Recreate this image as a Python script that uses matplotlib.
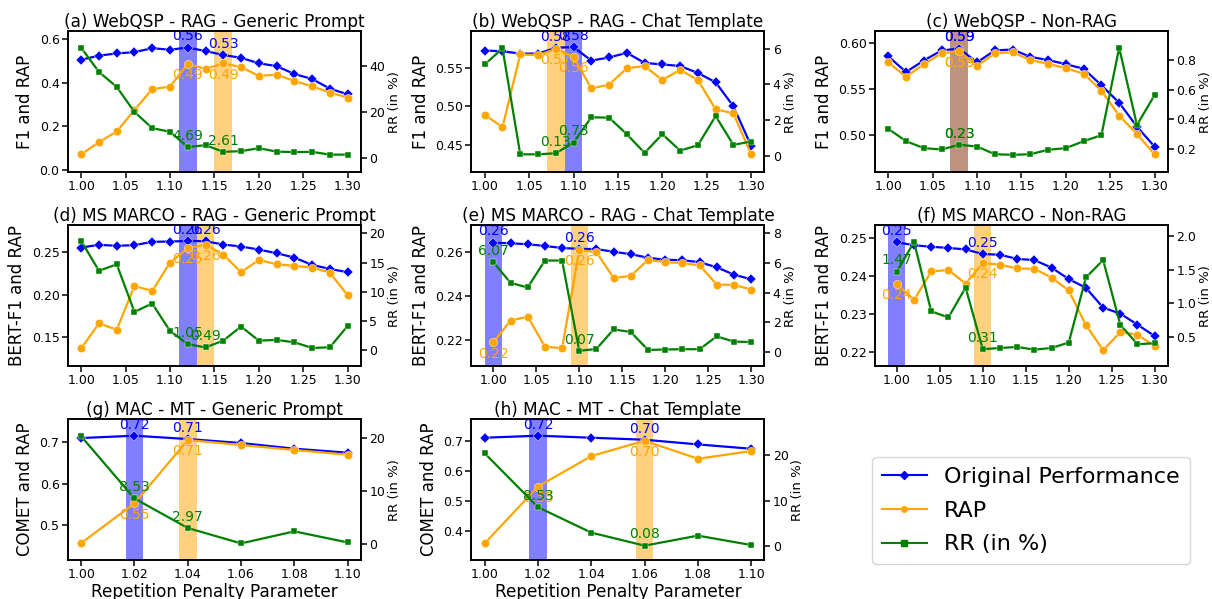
import matplotlib

matplotlib.use("Agg")
import matplotlib.pyplot as plt
from matplotlib.lines import Line2D

# repetition penalty values
X_LONG = [1.00, 1.02, 1.04, 1.06, 1.08, 1.10, 1.12, 1.14,
          1.16, 1.18, 1.20, 1.22, 1.24, 1.26, 1.28, 1.30]
X_SHORT = [1.00, 1.02, 1.04, 1.06, 1.08, 1.10]

TITLES = [
    "(a) WebQSP - RAG - Generic Prompt",
    "(b) WebQSP - RAG - Chat Template",
    "(c) WebQSP - Non-RAG",
    "(d) MS MARCO - RAG - Generic Prompt",
    "(e) MS MARCO - RAG - Chat Template",
    "(f) MS MARCO - Non-RAG",
    "(g) MAC - MT - Generic Prompt",
    "(h) MAC - MT - Chat Template",
]
ROW_YLABELS = ["F1 and RAP", "BERT-F1 and RAP", "COMET and RAP"]

A_ORIG = [0.505, 0.524, 0.534, 0.540, 0.558, 0.551, 0.561, 0.545,
          0.527, 0.514, 0.489, 0.476, 0.440, 0.417, 0.373, 0.347]
A_RAP = [0.072, 0.128, 0.177, 0.275, 0.371, 0.382, 0.486, 0.463,
         0.488, 0.472, 0.431, 0.437, 0.408, 0.384, 0.355, 0.332]
A_RR = [47.8, 37.3, 30.8, 19.9, 12.9, 11.3, 4.69, 5.5,
        2.61, 2.9, 4.2, 2.7, 2.5, 2.6, 1.4, 1.4]

B_ORIG = [0.572, 0.571, 0.568, 0.568, 0.5755, 0.5765, 0.559, 0.563,
          0.569, 0.556, 0.554, 0.552, 0.543, 0.531, 0.500, 0.449]
B_RAP = [0.489, 0.473, 0.567, 0.566, 0.574, 0.564, 0.523, 0.528,
         0.549, 0.552, 0.534, 0.547, 0.534, 0.496, 0.491, 0.438]
B_RR = [5.12, 6.02, 0.07, 0.07, 0.13, 0.73, 2.15, 2.13,
        1.20, 0.15, 1.20, 0.28, 0.58, 2.22, 0.60, 0.79]

C_ORIG = [0.5855, 0.5685, 0.581, 0.592, 0.594, 0.579, 0.592, 0.593,
          0.585, 0.5815, 0.577, 0.572, 0.554, 0.535, 0.509, 0.487]
C_RAP = [0.579, 0.5634, 0.5768, 0.5888, 0.591, 0.575, 0.589, 0.590,
         0.5815, 0.5775, 0.5725, 0.5667, 0.548, 0.521, 0.501, 0.4786]
C_RR = [0.337, 0.254, 0.207, 0.198, 0.23, 0.218, 0.166, 0.162,
        0.166, 0.196, 0.207, 0.254, 0.294, 0.883, 0.363, 0.565]

D_ORIG = [0.2555, 0.2587, 0.2575, 0.2583, 0.2622, 0.2626, 0.2632, 0.2630,
          0.2590, 0.2567, 0.2531, 0.2488, 0.2437, 0.2350, 0.2303, 0.2264]
D_RAP = [0.1366, 0.1661, 0.1587, 0.2102, 0.2043, 0.2378, 0.2547, 0.2590,
         0.2472, 0.2264, 0.2409, 0.2358, 0.2339, 0.2319, 0.2260, 0.1992]
D_RR = [18.7, 13.6, 14.7, 6.57, 8.0, 3.31, 1.05, 0.49,
        1.66, 4.06, 1.66, 1.77, 1.37, 0.40, 0.51, 4.17]

E_ORIG = [0.2640, 0.2637, 0.2633, 0.2625, 0.2616, 0.2612, 0.2611, 0.2599,
          0.2588, 0.2572, 0.2563, 0.2561, 0.2552, 0.2529, 0.2496, 0.2475]
E_RAP = [0.2191, 0.2289, 0.2307, 0.2172, 0.2164, 0.2607, 0.2597, 0.2481,
         0.2490, 0.2563, 0.2552, 0.2548, 0.2538, 0.2451, 0.2450, 0.2429]
E_RR = [6.07, 4.66, 4.35, 6.17, 6.17, 0.07, 0.20, 1.52,
        1.34, 0.13, 0.16, 0.18, 0.18, 1.05, 0.69, 0.67]

F_ORIG = [0.2489, 0.2481, 0.2477, 0.2474, 0.2470, 0.2458, 0.2456, 0.2445,
          0.2442, 0.2422, 0.2392, 0.2369, 0.2317, 0.2301, 0.2272, 0.2242]
F_RAP = [0.2380, 0.2337, 0.2412, 0.2416, 0.2380, 0.2434, 0.2430, 0.2420,
         0.2419, 0.2396, 0.2362, 0.2271, 0.2205, 0.2252, 0.2246, 0.2215]
F_RR = [1.47, 1.915, 0.876, 0.786, 1.233, 0.31, 0.329, 0.344,
        0.304, 0.329, 0.41, 1.383, 1.644, 0.676, 0.385, 0.40]

G_ORIG = [0.7104, 0.716, 0.708, 0.6984, 0.6847, 0.675]
G_RAP = [0.4574, 0.553, 0.7056, 0.6936, 0.6815, 0.6703]
G_RR = [20.25, 8.53, 2.97, 0.06, 2.33, 0.25]

H_ORIG = [0.7111, 0.7178, 0.7111, 0.7044, 0.6889, 0.6744]
H_RAP = [0.360, 0.5489, 0.650, 0.7011, 0.6411, 0.6667]
H_RR = [20.37, 8.53, 2.94, 0.08, 2.28, 0.22]

PANELS = [
    (X_LONG, A_ORIG, A_RAP, A_RR),
    (X_LONG, B_ORIG, B_RAP, B_RR),
    (X_LONG, C_ORIG, C_RAP, C_RR),
    (X_LONG, D_ORIG, D_RAP, D_RR),
    (X_LONG, E_ORIG, E_RAP, E_RR),
    (X_LONG, F_ORIG, F_RAP, F_RR),
    (X_SHORT, G_ORIG, G_RAP, G_RR),
    (X_SHORT, H_ORIG, H_RAP, H_RR),
]

# axis styling per panel: left ylim, right ylim, left ticks, right ticks
LEFT_LIM = [(-0.009, 0.636), (0.415, 0.597), (0.4594, 0.613), (0.1158, 0.2819),
            (0.2084, 0.2719), (0.2163, 0.2534), (0.4165, 0.756), (0.3044, 0.773)]
RIGHT_LIM = [(-6.2, 55.0), (-0.93, 6.99), (0.0455, 0.995), (-2.7, 21.4),
             (-0.96, 8.56), (0.058, 2.166), (-3.08, 23.5), (-3.09, 27.9)]
LEFT_TICKS = [[0.0, 0.2, 0.4, 0.6], [0.45, 0.50, 0.55], [0.50, 0.55, 0.60],
              [0.15, 0.20, 0.25], [0.22, 0.24, 0.26], [0.22, 0.23, 0.24, 0.25],
              [0.5, 0.6, 0.7], [0.4, 0.5, 0.6, 0.7]]
RIGHT_TICKS = [[0, 20, 40], [0, 2, 4, 6], [0.2, 0.4, 0.6, 0.8], [0, 5, 10, 15, 20],
               [0, 2, 4, 6, 8], [0.5, 1.0, 1.5, 2.0], [0, 10, 20], [0, 10, 20]]
X_TICKS_LONG = [1.00, 1.05, 1.10, 1.15, 1.20, 1.25, 1.30]

TICK_FS = 9
ANN_FS = 10


def style_axis(ax):
    for sp in ax.spines.values():
        sp.set_linewidth(1.2)
    ax.tick_params(axis="both", labelsize=TICK_FS, length=4, width=1.1, pad=2)


def plot():
    fig = plt.figure(figsize=(12.12, 5.99), dpi=100)
    gs = fig.add_gridspec(3, 3, left=0.056, right=0.9637, top=0.948,
                          bottom=0.065, wspace=0.377, hspace=0.376)

    for i, (xs, orig, rap, rr) in enumerate(PANELS):
        ax = fig.add_subplot(gs[i // 3, i % 3])
        ax2 = ax.twinx()

        half = (xs[-1] - xs[0]) / 30
        best_orig = max(range(len(xs)), key=lambda k: orig[k])
        best_rap = max(range(len(xs)), key=lambda k: rap[k])
        ax.axvspan(xs[best_orig] - half, xs[best_orig] + half,
                   color="blue", alpha=0.5, lw=0, zorder=0)
        ax.axvspan(xs[best_rap] - half, xs[best_rap] + half,
                   color="orange", alpha=0.5, lw=0, zorder=0)

        ax.plot(xs, orig, color="blue", marker="D", ms=5.5, lw=1.6,
                mec="white", mew=0.3, zorder=3)
        ax.plot(xs, rap, color="orange", marker="o", ms=6, lw=1.6,
                mec="white", mew=0.3, zorder=3)
        ax2.plot(xs, rr, color="green", marker="s", ms=5, lw=1.6,
                 mec="white", mew=0.3, zorder=3)

        for k in (best_orig, best_rap):
            ax.annotate(f"{orig[k]:.2f}", (xs[k], orig[k]), xytext=(0, 3),
                        textcoords="offset points", ha="center", va="bottom",
                        color="blue", fontsize=ANN_FS, zorder=5)
            ax.annotate(f"{rap[k]:.2f}", (xs[k], rap[k]), xytext=(0, -3),
                        textcoords="offset points", ha="center", va="top",
                        color="orange", fontsize=ANN_FS, zorder=5)
            ax2.annotate(f"{rr[k]:.2f}", (xs[k], rr[k]), xytext=(0, 3),
                         textcoords="offset points", ha="center", va="bottom",
                         color="green", fontsize=ANN_FS, zorder=5)

        ax.set_ylim(*LEFT_LIM[i])
        ax2.set_ylim(*RIGHT_LIM[i])
        ax.set_yticks(LEFT_TICKS[i])
        ax2.set_yticks(RIGHT_TICKS[i])
        ax.set_xticks(X_TICKS_LONG if len(xs) > 6 else xs)
        ax.xaxis.set_major_formatter(plt.FormatStrFormatter("%.2f"))

        ax.set_title(TITLES[i], fontsize=12.2, pad=3)
        ax.set_ylabel(ROW_YLABELS[i // 3], fontsize=12)
        ax2.set_ylabel("RR (in %)", fontsize=9.5, labelpad=2)
        if i >= 6:
            ax.set_xlabel("Repetition Penalty Parameter", fontsize=12.2,
                          labelpad=1)
        style_axis(ax)
        style_axis(ax2)

    handles = [
        Line2D([], [], color="blue", marker="D", ms=4, lw=1.5),
        Line2D([], [], color="orange", marker="o", ms=4, lw=1.5),
        Line2D([], [], color="green", marker="s", ms=4, lw=1.5),
    ]
    fig.legend(handles, ["Original Performance", "RAP", "RR (in %)"],
               loc="center", bbox_to_anchor=(0.8507, 0.1477), fontsize=16,
               handlelength=2.0, handletextpad=0.8, labelspacing=0.62,
               borderpad=0.45)
    return fig


def main():
    fig = plot()
    fig.savefig("out.png", dpi=100)


if __name__ == "__main__":
    main()
